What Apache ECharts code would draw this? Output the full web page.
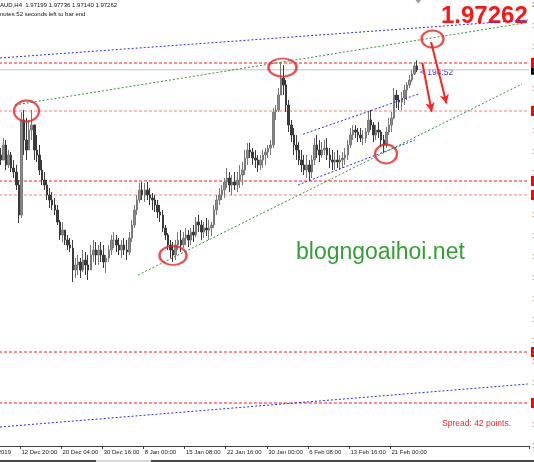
<!DOCTYPE html>
<html><head><meta charset="utf-8">
<script src="https://cdn.jsdelivr.net/npm/echarts@6/dist/echarts.min.js"></script>
<style>html,body{margin:0;padding:0;background:#fff;overflow:hidden}#c{width:534px;height:462px}</style>
</head><body><div id="c"></div><script>
// ---- data (GBPAUD H4, drawn as 8-hour candles) ----
const xLabels = ['5 Dec 2019','12 Dec 20:00','20 Dec 04:00','30 Dec 16:00','8 Jan 00:00','15 Jan 08:00','22 Jan 16:00','30 Jan 00:00','6 Feb 08:00','13 Feb 16:00','21 Feb 00:00'];
const totalSlots = 214;
const leadingEmpty = 8;
const firstOpen = 1.93;
const closes = [
1.9275,1.935,1.925,1.93,1.9235,1.9215,1.915,1.9,1.9475,1.9375,
1.9325,1.9425,1.945,1.9325,1.93,1.9225,1.9175,1.915,1.91,1.9075,
1.905,1.9025,1.8965,1.89,1.8925,1.8875,1.885,1.8835,1.8725,1.875,
1.8765,1.8725,1.8775,1.875,1.8725,1.88,1.8825,1.88,1.8825,1.88,
1.8765,1.8785,1.8825,1.8875,1.8875,1.885,1.8825,1.885,1.8825,1.8815,
1.8885,1.895,1.9025,1.9075,1.9125,1.91,1.9125,1.91,1.9085,1.9075,
1.905,1.9015,1.9,1.8935,1.89,1.885,1.8825,1.88,1.885,1.8875,
1.885,1.8885,1.89,1.8875,1.8915,1.89,1.8965,1.895,1.8915,1.8935,
1.8925,1.8935,1.895,1.9025,1.9075,1.91,1.9125,1.9165,1.9185,1.915,
1.9165,1.915,1.9175,1.92,1.9225,1.9285,1.9325,1.9315,1.9285,1.9275,
1.925,1.9275,1.93,1.9315,1.9335,1.935,1.9515,1.9525,1.96,1.9685,
1.965,1.955,1.945,1.94,1.935,1.9325,1.9275,1.925,1.9225,1.925,
1.9215,1.9275,1.935,1.9325,1.93,1.9325,1.9335,1.93,1.9275,1.9265,
1.9275,1.9265,1.9275,1.9285,1.93,1.935,1.94,1.9425,1.9415,1.94,
1.9385,1.9385,1.9415,1.9475,1.945,1.94,1.9425,1.9415,1.9375,1.935,
1.9415,1.945,1.9485,1.96,1.9575,1.9565,1.9585,1.9625,1.965,1.9675,
1.9705,1.9745,1.97262];
const highs = [
1.9335,1.9385,1.9375,1.9325,1.9315,1.9275,1.925,1.9175,1.9515,1.9525,
1.9485,1.9475,1.9525,1.945,1.94,1.935,1.9275,1.9215,1.9175,1.9135,
1.9115,1.9085,1.905,1.8975,1.8965,1.8925,1.89,1.8885,1.8875,1.8785,
1.88,1.8785,1.8825,1.8815,1.88,1.885,1.8875,1.8865,1.885,1.8865,
1.885,1.88,1.885,1.89,1.8915,1.89,1.8885,1.8875,1.8885,1.8875,
1.8915,1.8975,1.905,1.91,1.916,1.9165,1.916,1.9165,1.9135,1.911,
1.91,1.9075,1.905,1.9025,1.895,1.891,1.8875,1.8865,1.8875,1.8915,
1.8925,1.8915,1.8935,1.8925,1.8935,1.895,1.899,1.9,1.8975,1.8965,
1.8985,1.8975,1.8965,1.905,1.91,1.9135,1.915,1.9185,1.9235,1.9215,
1.92,1.9215,1.9215,1.925,1.9265,1.9325,1.936,1.936,1.9335,1.9325,
1.93,1.93,1.9325,1.9335,1.935,1.9375,1.9535,1.955,1.9635,1.976,
1.975,1.9675,1.9575,1.9475,1.9435,1.94,1.9365,1.9325,1.93,1.93,
1.9275,1.93,1.9385,1.94,1.9375,1.9365,1.9375,1.9385,1.9335,1.9325,
1.9315,1.9325,1.93,1.9315,1.9335,1.9375,1.9435,1.945,1.945,1.9435,
1.9435,1.9425,1.9435,1.9515,1.9525,1.9465,1.945,1.9465,1.9425,1.94,
1.944,1.9485,1.9515,1.9635,1.9625,1.96,1.9615,1.965,1.9665,1.97,
1.9725,1.9765,1.97736];
const lows = [
1.925,1.9275,1.9225,1.9235,1.9215,1.9185,1.9125,1.896,1.8985,1.93,
1.9275,1.9325,1.9375,1.9275,1.9265,1.92,1.915,1.9125,1.9075,1.9035,
1.9025,1.9,1.895,1.8875,1.8865,1.885,1.8825,1.8815,1.8665,1.8685,
1.87,1.8685,1.8715,1.87,1.8675,1.8725,1.8765,1.875,1.875,1.8765,
1.8735,1.871,1.8765,1.88,1.8835,1.8815,1.88,1.8785,1.88,1.8775,
1.88,1.8865,1.8935,1.9,1.906,1.9075,1.9065,1.9075,1.905,1.9025,
1.9015,1.8985,1.8965,1.8915,1.8875,1.8825,1.8785,1.8765,1.8775,1.8825,
1.8815,1.8835,1.885,1.884,1.885,1.8865,1.889,1.8915,1.8875,1.8885,
1.8895,1.8875,1.8895,1.8935,1.9,1.905,1.9075,1.9085,1.9135,1.9115,
1.91,1.9125,1.9115,1.9135,1.915,1.92,1.925,1.9285,1.925,1.9235,
1.9215,1.9225,1.9235,1.925,1.9285,1.93,1.9335,1.9475,1.9515,1.96,
1.96,1.9515,1.9415,1.9365,1.93,1.9275,1.925,1.9215,1.92,1.9185,
1.9175,1.9185,1.925,1.9285,1.9265,1.9285,1.93,1.9275,1.9235,1.9225,
1.9225,1.9235,1.9225,1.9235,1.925,1.9275,1.9335,1.9375,1.9385,1.9365,
1.9365,1.935,1.936,1.94,1.9425,1.9365,1.9375,1.9385,1.934,1.931,
1.9335,1.94,1.9415,1.948,1.9535,1.9525,1.9525,1.955,1.9575,1.9635,
1.9665,1.97,1.9714];
const strongLevels = [1.976, 1.917, 1.8315, 1.806];
const softLevels = [1.952, 1.91];
const bidPrice = 1.97262;
// trend lines: [slotFrom, priceFrom, slotTo, priceTo]
const blueLines = [[7.67,1.9785,213,1.9975],[7.67,1.794,213,1.8155],[125.6,1.9404,171.1,1.96075],[123.6,1.915,169.1,1.9375]];
const greenLines = [[13.5,1.955,213,1.99625],[61.4,1.87,210.8,1.9655]];
const arrows = [[172.0,1.97615,175.65,1.95165],[175.4,1.9865,181.4,1.95575]];
const circles = [[17.98,1.952],[74.99,1.87975],[117.6,1.97375],[157.87,1.9305],[175.96,1.988]];

// ---- styles ----
const circleSizes = [[25,21],[27,19],[28,18],[22,19],[22,17]];
const FONT = 'Liberation Sans';

const candles = [];
for (let i = 0; i < totalSlots; i++) {
  const j = i - leadingEmpty;
  if (j >= 0 && j < closes.length) {
    const o = j === 0 ? firstOpen : closes[j - 1];
    candles.push([o, closes[j], lows[j], highs[j]]);
  } else candles.push('-');
}
const slots = Array.from({length: totalSlots}, (_, i) => 's' + i);
const isTick = i => i % 16 === 0 && (i / 16) < xLabels.length;
const xMin = -0.5, xMax = totalSlots - 0.5;

// horizontal levels drawn as two-point line series across the full x range
const levelLine = (v, color, tagBg, type) => ({
  type: 'line', xAxisIndex: 1, yAxisIndex: 0, z: 1, silent: true,
  data: [[xMin, v], [xMax, v]],
  symbol: 'none', showSymbol: false,
  lineStyle: {color: color, type: type, width: 1, opacity: 1},
  itemStyle: {color: color},
  endLabel: {show: true, distance: 2, formatter: v.toFixed(5), backgroundColor: tagBg, color: '#fff', fontSize: 8, padding: [1, 2], fontFamily: FONT}
});
const mkPair = a => [{coord: [a[0], a[1]]}, {coord: [a[2], a[3]]}];
const trendSeries = (arr, color, type, width, endSym) => ({
  type: 'line', xAxisIndex: 1, yAxisIndex: 0, data: [], z: 3, color: color,
  markLine: {
    silent: true, precision: 6, animation: false,
    symbol: ['none', endSym], symbolSize: [7, 9],
    lineStyle: {color: color, type: type, width: width, opacity: 1},
    label: {show: false},
    data: arr.map(mkPair)
  }
});

const series = [levelLine(bidPrice, '#c4c4c4', '#000000', 'solid')];
strongLevels.forEach(v => series.push(levelLine(v, '#ff1a1a', '#ff0000', [3, 2])));
softLevels.forEach(v => series.push(levelLine(v, '#ff7a7a', '#ff0000', [3, 2])));
series.push({
  type: 'candlestick', xAxisIndex: 0, yAxisIndex: 0, data: candles, barWidth: 2, z: 2,
  itemStyle: {color: '#8c8c8c', color0: '#3a3a3a', borderColor: '#7a7a7a', borderColor0: '#3a3a3a', borderWidth: 1}
});
series.push(trendSeries(blueLines, '#2a2aff', [2, 2], 1, 'none'));
series.push(trendSeries(greenLines, '#3a8f3a', [2, 2], 1, 'none'));
series.push(trendSeries(arrows, '#ff2020', 'solid', 2, 'arrow'));
series.push({
  type: 'scatter', xAxisIndex: 1, yAxisIndex: 0, data: circles,
  symbol: 'circle', symbolSize: (v, p) => circleSizes[p.dataIndex], z: 5,
  itemStyle: {color: 'rgba(0,0,0,0)', borderColor: '#f02828', borderWidth: 2, shadowBlur: 2, shadowColor: 'rgba(0,0,0,0.25)'}
});

const chart = echarts.init(document.getElementById('c'), null, {renderer: 'canvas'});
chart.setOption({
  animation: false,
  backgroundColor: '#fff',
  grid: {left: -21, right: 5, top: 0, bottom: 16, show: false, containLabel: false, outerBoundsMode: 'none'},
  xAxis: [{
    type: 'category', data: slots, boundaryGap: true,
    axisLine: {show: true, lineStyle: {color: '#404040', width: 1}},
    axisTick: {show: true, interval: (i) => isTick(i), length: 3, lineStyle: {color: '#404040'}},
    axisLabel: {show: true, interval: (i) => isTick(i), formatter: (v, i) => isTick(i) ? xLabels[i / 16] : '', align: 'left', fontSize: 6, fontFamily: FONT, color: '#202020', margin: 3},
    splitLine: {show: false}
  }, {
    type: 'value', min: xMin, max: xMax, show: false
  }],
  yAxis: {
    type: 'value', position: 'right', min: 1.7845, max: 2.0075, interval: 0.0105,
    axisLine: {show: true, lineStyle: {color: '#808080'}},
    axisTick: {show: true, length: 3, lineStyle: {color: '#404040'}},
    axisLabel: {show: true, margin: 3, fontSize: 8, fontFamily: FONT, color: '#7a6a50', formatter: v => v.toFixed(5)},
    splitLine: {show: false}
  },
  series: series,
  graphic: [
    {type: 'text', left: 0, top: 2, style: {text: 'AUD,H4  1.97199 1.97736 1.97140 1.97262', font: '6px "Liberation Sans"', fill: '#111'}},
    {type: 'text', left: 0, top: 11, style: {text: 'nutes 52 seconds left to bar end', font: '6px "Liberation Sans"', fill: '#111'}},
    {type: 'polygon', shape: {points: [[415.5, 0], [421, 0], [418.2, 3.5]]}, style: {fill: '#9a9a9a'}},
    {type: 'text', x: 441, y: 16, style: {text: '1.97262', font: 'bold 24px "Liberation Sans"', fill: '#ff1414', verticalAlign: 'middle'}},
    {type: 'text', x: 420, y: 73, style: {text: '< 194:52', font: '8.5px "Liberation Sans"', fill: '#3c3cff', verticalAlign: 'middle'}},
    {type: 'text', x: 296, y: 253, style: {text: 'blogngoaihoi.net', font: '23px "Liberation Sans"', fill: '#33a033', verticalAlign: 'middle'}},
    {type: 'text', x: 442, y: 424, style: {text: 'Spread: 42 points.', font: '8.5px "Liberation Sans"', fill: '#ff2020', verticalAlign: 'middle'}},
    {type: 'rect', shape: {x: 0, y: 460, width: 534, height: 2}, style: {fill: '#4a4a4a'}},
    {type: 'rect', shape: {x: 96, y: 460, width: 55, height: 2}, style: {fill: '#d8d8d8'}}
  ]
});
</script></body></html>
